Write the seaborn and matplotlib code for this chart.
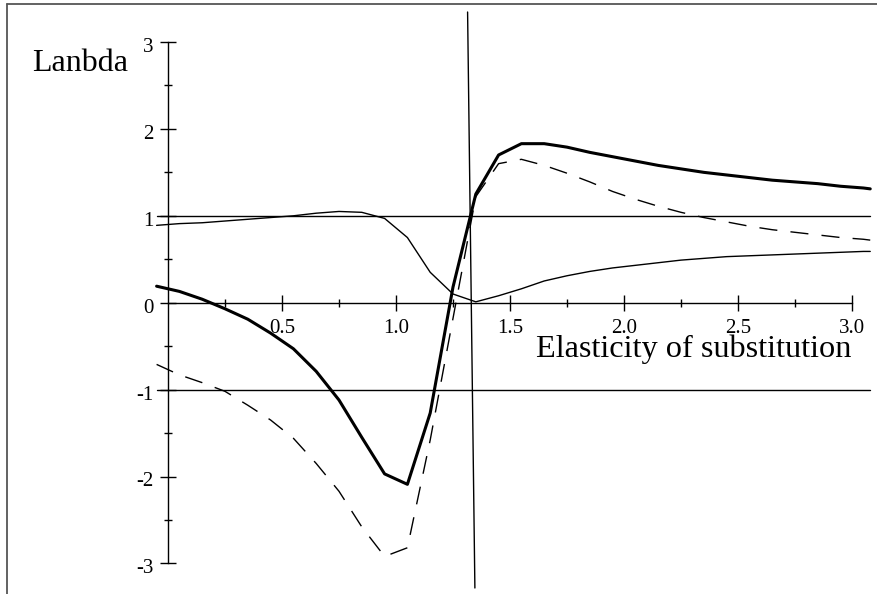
import numpy as np
import pandas as pd
import matplotlib
matplotlib.use("Agg")
import matplotlib.pyplot as plt
from matplotlib.lines import Line2D
from matplotlib.ticker import FixedLocator, FixedFormatter
import matplotlib.transforms as mtransforms
import seaborn as sns

# ---------------- data ----------------
elasticity = [-0.05, 0.05, 0.15, 0.25, 0.35, 0.45, 0.55, 0.65, 0.75, 0.85, 0.95,
              1.05, 1.15, 1.25, 1.35, 1.45, 1.55, 1.65, 1.75, 1.85, 1.95, 2.05,
              2.15, 2.25, 2.35, 2.45, 2.55, 2.65, 2.75, 2.85, 2.95, 3.05, 3.08]

lambda_thick = [0.19, 0.13, 0.04, -0.07, -0.19, -0.35, -0.53, -0.79, -1.12, -1.55, -1.97,
                -2.09, -1.27, 0.18, 1.25, 1.70, 1.83, 1.83, 1.79, 1.73, 1.68, 1.63,
                1.58, 1.54, 1.50, 1.47, 1.44, 1.41, 1.39, 1.37, 1.34, 1.32, 1.31]

lambda_dashed = [-0.71, -0.83, -0.92, -1.02, -1.18, -1.35, -1.56, -1.85, -2.17, -2.58, -2.92,
                 -2.82, -1.58, -0.18, 1.22, 1.60, 1.65, 1.58, 1.49, 1.39, 1.28, 1.19,
                 1.11, 1.04, 0.98, 0.93, 0.88, 0.84, 0.81, 0.78, 0.75, 0.73, 0.72]

lambda_thin = [0.89, 0.91, 0.92, 0.94, 0.96, 0.98, 1.00, 1.03, 1.05, 1.04, 0.97,
               0.75, 0.35, 0.10, 0.01, 0.08, 0.16, 0.25, 0.31, 0.36, 0.40, 0.43,
               0.46, 0.49, 0.51, 0.53, 0.54, 0.55, 0.56, 0.57, 0.58, 0.59, 0.59]

ref_x = [-0.05, 3.08]
ref_upper = [1.0, 1.0]
ref_lower = [-1.0, -1.0]

steep_x = [1.314, 1.346]
steep_y = [3.345, -3.283]

x_ticks = [0.5, 1.0, 1.5, 2.0, 2.5, 3.0]
x_tick_labels = ["0.5", "1.0", "1.5", "2.0", "2.5", "3.0"]
y_ticks = [-3, -2, -1, 0, 1, 2, 3]
y_tick_labels = ["-3", "-2", "-1", "0", "1", "2", "3"]

y_label = "Lanbda"
x_label = "Elasticity of substitution"

# ---------------- figure ----------------
sns.set_style("white")
plt.rcParams["font.family"] = ["Liberation Serif", "DejaVu Serif"]
plt.rcParams["axes.unicode_minus"] = False

W, H = 878, 594
fig = plt.figure(figsize=(W / 100, H / 100), dpi=100)
ax = fig.add_axes([0, 0, 1, 1])
ax.set_facecolor("white")

# pixel mapping: x=0 at px 168, 228 px/unit; y=0 at px 302.7, 86.9 px/unit
ax.set_xlim((0 - 168) / 228, (W - 168) / 228)
ax.set_ylim((302.7 - H) / 86.9, 302.7 / 86.9)

df = pd.DataFrame({"x": elasticity, "thick": lambda_thick,
                   "dashed": lambda_dashed, "thin": lambda_thin})

sns.lineplot(data=df, x="x", y="thin", ax=ax, color="black", lw=1.0,
             sort=False, estimator=None)
sns.lineplot(data=df, x="x", y="dashed", ax=ax, color="black", lw=1.0,
             sort=False, estimator=None, dashes=False)
ax.lines[-1].set_dashes((13, 9.5))
sns.lineplot(data=df, x="x", y="thick", ax=ax, color="black", lw=2.2,
             sort=False, estimator=None)

sns.lineplot(x=ref_x, y=ref_upper, ax=ax, color="black", lw=1.0)
sns.lineplot(x=ref_x, y=ref_lower, ax=ax, color="black", lw=1.0)
sns.lineplot(x=steep_x, y=steep_y, ax=ax, color="black", lw=1.0,
             sort=False, estimator=None)

# axes through origin
for s in ["top", "right"]:
    ax.spines[s].set_visible(False)
ax.spines["left"].set_position(("data", 0))
ax.spines["bottom"].set_position(("data", 0))
ax.spines["left"].set_bounds(-3, 3)
ax.spines["bottom"].set_bounds(0, 3.0)
for s in ["left", "bottom"]:
    ax.spines[s].set_color("black")
    ax.spines[s].set_linewidth(1.0)

ax.xaxis.set_major_locator(FixedLocator(x_ticks))
ax.xaxis.set_major_formatter(FixedFormatter(x_tick_labels))
ax.xaxis.set_minor_locator(FixedLocator([0.25, 0.75, 1.25, 1.75, 2.25, 2.75]))
ax.yaxis.set_major_locator(FixedLocator(y_ticks))
ax.yaxis.set_major_formatter(FixedFormatter(y_tick_labels))
ax.yaxis.set_minor_locator(FixedLocator([-2.5, -1.5, -0.5, 0.5, 1.5, 2.5]))

ax.tick_params(axis="both", which="both", bottom=True, left=True, top=False, right=False)
ax.tick_params(axis="both", which="major", direction="inout", length=11,
               width=1.0, color="black", labelsize=15, labelcolor="black")
ax.tick_params(axis="both", which="minor", direction="inout", length=6,
               width=1.0, color="black")
ax.tick_params(axis="x", which="major", pad=6)
ax.tick_params(axis="y", which="major", pad=5)
ax.set_xlabel("")
ax.set_ylabel("")

# y tick labels sit slightly below their ticks in the original
shift = mtransforms.ScaledTranslation(0, -3 / 100, fig.dpi_scale_trans)
for lab in ax.get_yticklabels():
    lab.set_transform(lab.get_transform() + shift)

ax.text(-0.596, 2.67, y_label, fontsize=23, ha="left", va="baseline", color="black")
ax.text(1.614, -0.62, x_label, fontsize=23.2, ha="left", va="baseline", color="black")

# frame of the original picture (top and left edges)
fig.add_artist(Line2D([7 / W, 1], [1 - 4 / H, 1 - 4 / H], transform=fig.transFigure,
                      color="#555555", lw=1.3))
fig.add_artist(Line2D([7 / W, 7 / W], [0, 1 - 4 / H], transform=fig.transFigure,
                      color="#555555", lw=1.3))

fig.savefig("out.png", dpi=100, facecolor="white")
